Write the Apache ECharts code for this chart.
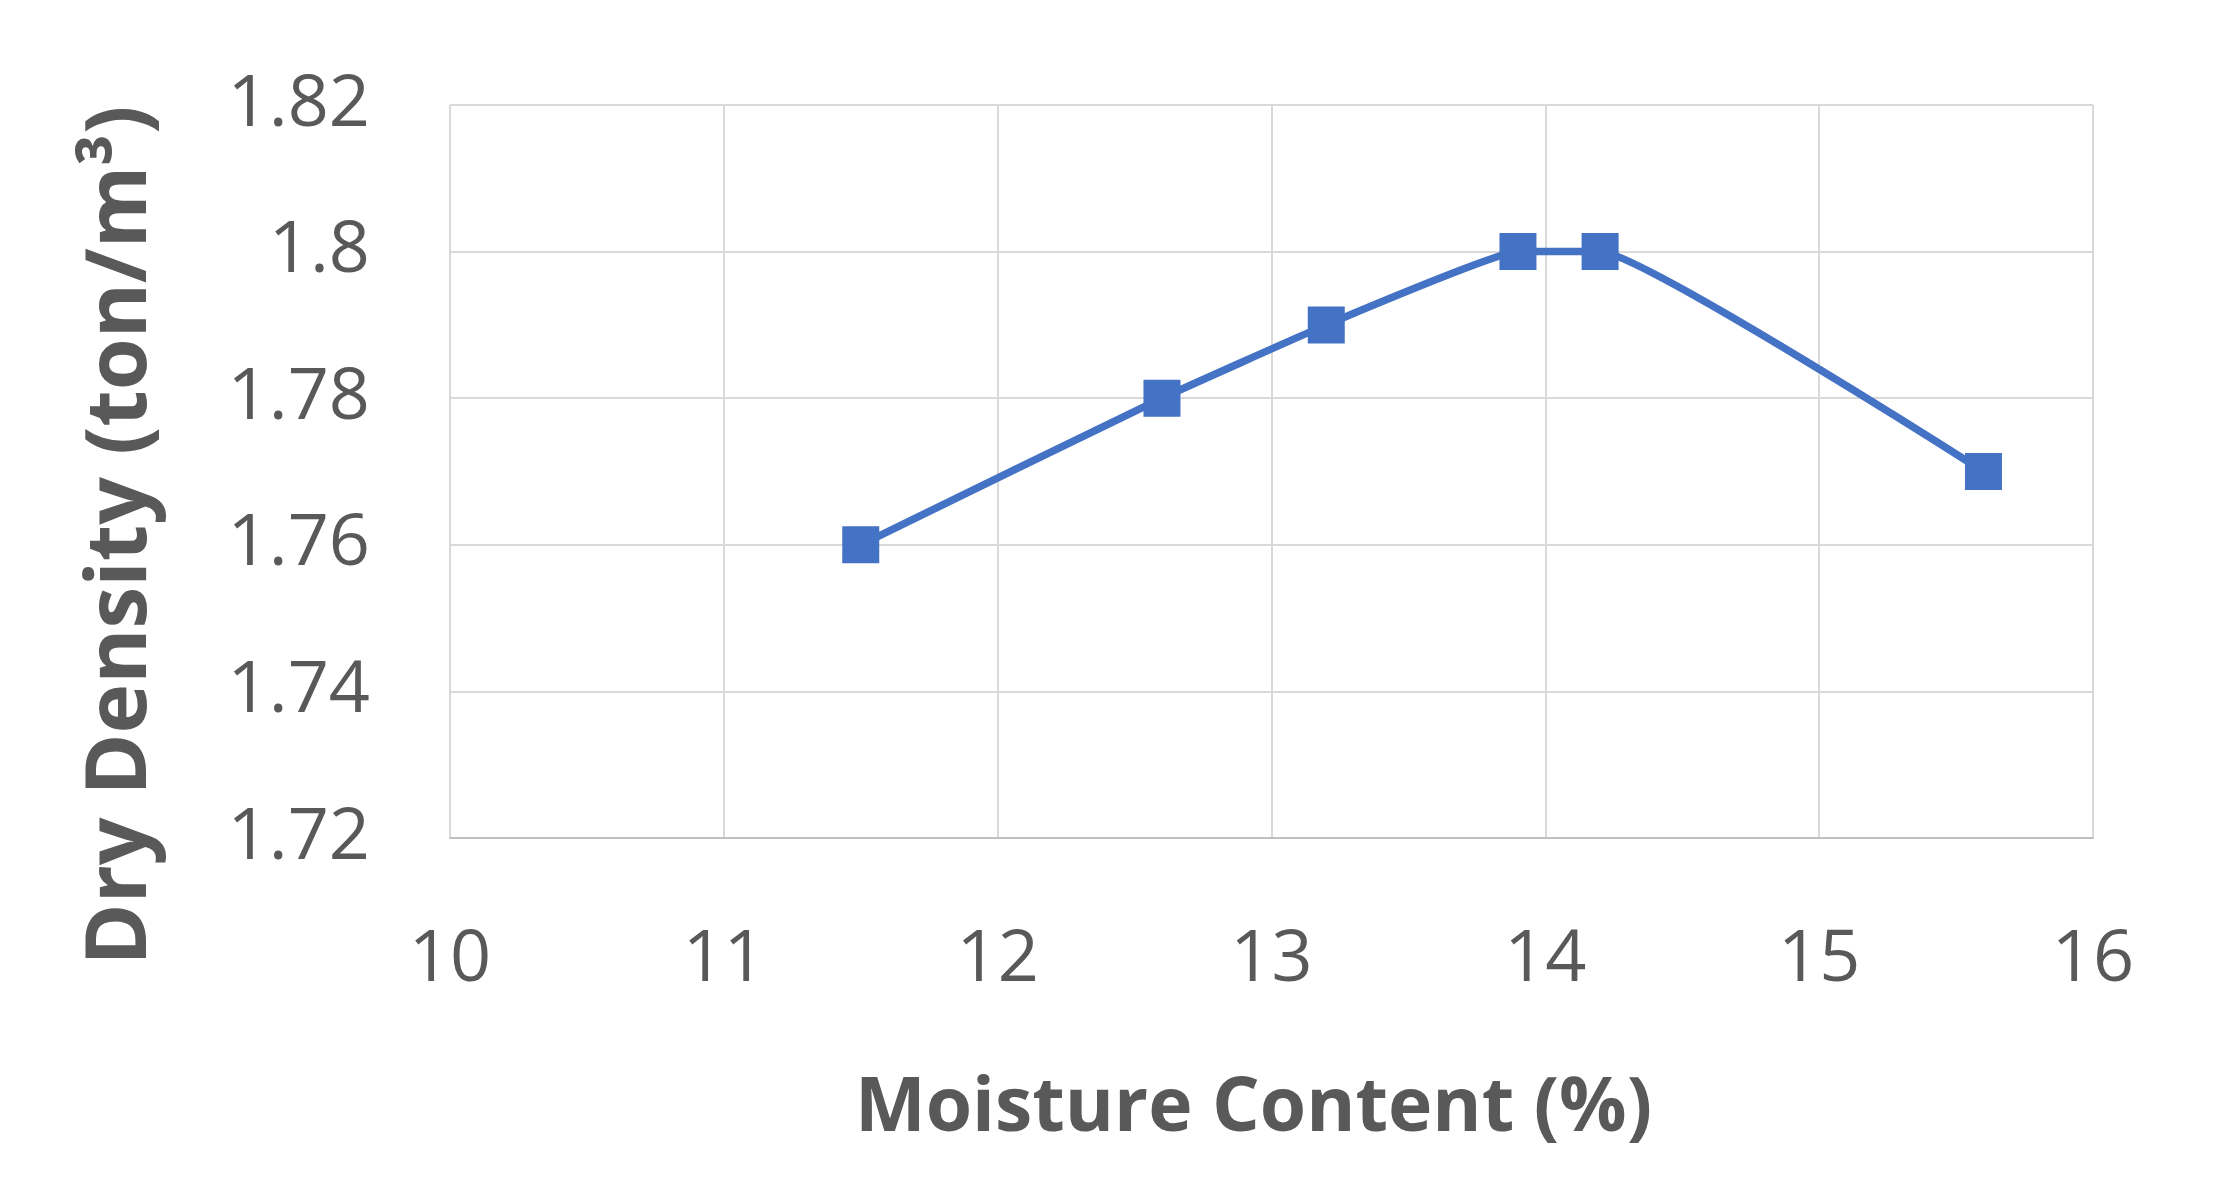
<!DOCTYPE html>
<html>
<head>
<meta charset="utf-8">
<script src="https://cdn.jsdelivr.net/npm/echarts@6/dist/echarts.min.js"></script>
<style>html,body{margin:0;padding:0;background:#fff;}#c{width:2217px;height:1184px;}</style>
</head>
<body>
<div id="c"></div>
<script>
const moisture = [11.5, 12.6, 13.2, 13.9, 14.2, 15.6];
const dryDensity = [1.76, 1.78, 1.79, 1.80, 1.80, 1.77];
const xTitle = 'Moisture Content (%)';
const yTitle = 'Dry Density (ton/m³)';

const chart = echarts.init(document.getElementById('c'));
const font = '"Open Sans", "Noto Sans", sans-serif';
chart.setOption({
  backgroundColor: '#ffffff',
  animation: false,
  grid: { left: 450, right: 124, top: 105, bottom: 346 },
  xAxis: {
    type: 'value', min: 10, max: 16, interval: 1,
    name: xTitle, nameLocation: 'middle', nameGap: 234,
    nameTextStyle: { fontFamily: font, fontWeight: 'bold', fontSize: 75, color: '#595959', padding: [0, 36, 0, 0] },
    axisLine: { show: true, lineStyle: { color: '#bfbfbf', width: 2 } },
    axisTick: { show: false },
    axisLabel: { fontFamily: font, fontSize: 72, color: '#595959', margin: 86 },
    splitLine: { show: true, lineStyle: { color: '#d9d9d9', width: 2 } }
  },
  yAxis: {
    type: 'value', min: 1.72, max: 1.82, interval: 0.02,
    name: yTitle, nameLocation: 'middle', nameGap: 286, nameRotate: 90,
    nameTextStyle: { fontFamily: font, fontWeight: 'bold', fontSize: 84, color: '#595959', padding: [0, 128, 0, 0] },
    axisLine: { show: false },
    axisTick: { show: false },
    axisLabel: { fontFamily: font, fontSize: 72, color: '#595959', margin: 80,
      formatter: v => String(parseFloat(v.toFixed(2))) },
    splitLine: { show: true, lineStyle: { color: '#d9d9d9', width: 2 } }
  },
  series: [{
    type: 'line',
    data: moisture.map((x, i) => [x, dryDensity[i]]),
    smooth: 0.1,
    symbol: 'rect', symbolSize: 37,
    lineStyle: { color: '#4472C4', width: 7.5 },
    itemStyle: { color: '#4472C4' }
  }]
});
</script>
</body>
</html>
